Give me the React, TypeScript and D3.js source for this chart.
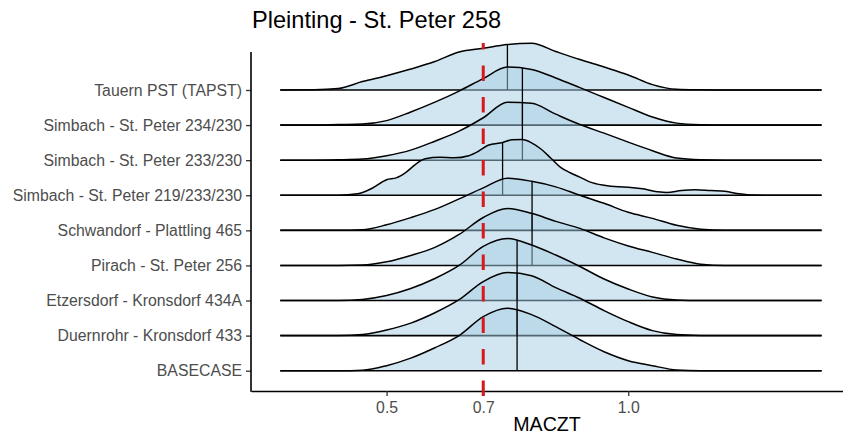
import React, { useEffect, useRef } from 'react';
import * as d3 from 'd3';

// rows, top to bottom
const rowLabels = [
  'Tauern PST (TAPST)',
  'Simbach - St. Peter 234/230',
  'Simbach - St. Peter 233/230',
  'Simbach - St. Peter 219/233/230',
  'Schwandorf - Plattling 465',
  'Pirach - St. Peter 256',
  'Etzersdorf - Kronsdorf 434A',
  'Duernrohr - Kronsdorf 433',
  'BASECASE',
];

// MACZT values where the densities were read
const gridX = [0.28, 0.35, 0.4, 0.45, 0.5, 0.55, 0.6, 0.65, 0.7, 0.75, 0.8, 0.85, 0.9, 0.95, 1.0, 1.05, 1.1, 1.15, 1.2, 1.25, 1.3, 1.4];
// the bumpy one needs more points
const gridFine = [0.28, 0.4, 0.44, 0.47, 0.5, 0.52, 0.54, 0.56, 0.58, 0.61, 0.64, 0.67, 0.69, 0.71, 0.74, 0.76, 0.78, 0.8, 0.82, 0.84, 0.86, 0.88, 0.9, 0.92, 0.95, 0.98, 1.0, 1.03, 1.06, 1.08, 1.11, 1.14, 1.17, 1.2, 1.23, 1.26, 1.3, 1.4];

const densTauern = [0, 0.01, 0.08, 0.47, 0.8, 1.17, 1.59, 2.12, 2.33, 2.54, 2.61, 2.15, 1.7, 1.28, 0.84, 0.3, 0.04, 0.01, 0, 0, 0, 0];
const densSimbach234 = [0, 0, 0.03, 0.06, 0.25, 0.73, 1.28, 1.9, 2.6, 3.24, 3.11, 2.63, 2.09, 1.54, 0.99, 0.45, 0.11, 0.02, 0, 0, 0, 0];
const densSimbach233 = [0, 0, 0.02, 0.06, 0.25, 0.56, 1.06, 1.62, 2.37, 3.24, 3.18, 2.57, 1.99, 1.51, 1.01, 0.53, 0.12, 0.02, 0, 0, 0, 0];
const densSimbach219 = [0, 0, 0.08, 0.39, 0.87, 0.97, 1.28, 1.73, 2.04, 2.12, 2.09, 2.21, 2.46, 2.79, 2.95, 3.1, 3.11, 2.93, 2.57, 2.07, 1.56, 1.26, 1.01, 0.75, 0.56, 0.47, 0.45, 0.36, 0.2, 0.15, 0.27, 0.31, 0.26, 0.22, 0.08, 0.01, 0, 0];
const densSchwandorf = [0, 0, 0, 0.03, 0.31, 0.71, 1.17, 1.76, 2.37, 2.91, 2.74, 2.43, 1.96, 1.51, 1.01, 0.67, 0.28, 0.06, 0, 0, 0, 0];
const densPirach = [0, 0, 0, 0.02, 0.2, 0.56, 1.01, 1.73, 2.68, 3.18, 2.91, 2.46, 2.07, 1.54, 1.09, 0.73, 0.36, 0.07, 0, 0, 0, 0];
const densEtzersdorf = [0, 0, 0, 0.06, 0.28, 0.67, 1.23, 1.96, 3.02, 3.46, 3.1, 2.54, 1.9, 1.2, 0.64, 0.2, 0.03, 0, 0, 0, 0, 0];
const densDuernrohr = [0, 0, 0, 0.06, 0.31, 0.7, 1.28, 2.01, 3.02, 3.52, 3.35, 2.68, 2.09, 1.4, 0.78, 0.28, 0.06, 0.01, 0, 0, 0, 0];
const densBasecase = [0, 0, 0, 0.03, 0.28, 0.7, 1.28, 1.96, 3.02, 3.49, 3.13, 2.46, 1.73, 1.06, 0.56, 0.28, 0.04, 0, 0, 0, 0, 0];

const medians = [0.75, 0.781, 0.781, 0.74, 0.801, 0.801, 0.77, 0.77, 0.77];

const xTicks = [0.5, 0.7, 1.0];
const refValue = 0.7;
const title = 'Pleinting - St. Peter 258';
const xTitle = 'MACZT';

const W = 843;
const H = 435;
const FONT = '"Liberation Sans", Arial, sans-serif';

export default function App() {
  const ref = useRef<SVGSVGElement>(null);

  useEffect(() => {
    if (ref.current) drawGraph(ref.current);
  }, []);

  return (
    <svg
      ref={ref}
      width={W}
      height={H}
      style={{ position: 'absolute', left: 0, top: 0, background: '#fff' }}
    />
  );
}

// y of the ridge path at a given screen x (path runs left to right)
function yAtX(path: SVGPathElement, xTarget: number) {
  const L = path.getTotalLength();
  let lo = 0;
  let hi = L;
  for (let i = 0; i < 30; i++) {
    const mid = (lo + hi) / 2;
    if (path.getPointAtLength(mid).x < xTarget) lo = mid;
    else hi = mid;
  }
  return path.getPointAtLength(hi).y;
}

const drawGraph = (node: SVGSVGElement) => {
  const svg = d3.select(node);
  svg.selectAll('*').remove();

  const grids = [gridX, gridX, gridX, gridFine, gridX, gridX, gridX, gridX, gridX];
  const dens = [
    densTauern, densSimbach234, densSimbach233, densSimbach219, densSchwandorf,
    densPirach, densEtzersdorf, densDuernrohr, densBasecase,
  ];
  const rows = rowLabels.map((label, i) => ({
    label,
    pts: grids[i].map((x, j) => [x, dens[i][j]] as [number, number]),
    median: medians[i],
  }));

  const x = d3.scaleLinear().domain([0.2195, 1.4443]).range([251, W]);
  const y = d3.scalePoint<string>().domain(rowLabels).range([90, 370.7]);
  const h = d3.scaleLinear().domain([0, 1]).range([0, 17.9]);

  const panel = svg.append('g');

  rows.forEach(row => {
    const base = y(row.label) as number;
    const g = panel.append('g');

    const area = d3
      .area<[number, number]>()
      .x(d => x(d[0]))
      .y0(base)
      .y1(d => base - h(d[1]))
      .curve(d3.curveMonotoneX);
    const line = d3
      .line<[number, number]>()
      .x(d => x(d[0]))
      .y(d => base - h(d[1]))
      .curve(d3.curveMonotoneX);

    g.append('path')
      .attr('d', area(row.pts))
      .attr('fill', '#a6cee3')
      .attr('fill-opacity', 0.5);

    g.append('line')
      .attr('x1', x(row.pts[0][0]))
      .attr('x2', x(row.pts[row.pts.length - 1][0]))
      .attr('y1', base)
      .attr('y2', base)
      .attr('stroke', '#000')
      .attr('stroke-width', 1.6);

    const ridge = g
      .append('path')
      .attr('d', line(row.pts))
      .attr('fill', 'none')
      .attr('stroke', '#000')
      .attr('stroke-width', 1.5)
      .attr('stroke-linejoin', 'round');

    const mx = x(row.median);
    const top = yAtX(ridge.node() as SVGPathElement, mx);
    g.append('line')
      .attr('x1', mx)
      .attr('x2', mx)
      .attr('y1', base)
      .attr('y2', top)
      .attr('stroke', '#000')
      .attr('stroke-width', 1.3);
  });

  // axes
  const xAxis = svg
    .append('g')
    .attr('transform', 'translate(0,391)')
    .call(
      d3
        .axisBottom(x)
        .tickValues(xTicks)
        .tickFormat(d3.format('.1f'))
        .tickSize(5)
        .tickSizeOuter(0)
        .tickPadding(5.5)
    );
  xAxis.select('.domain').attr('stroke', '#000').attr('stroke-width', 1.6);
  xAxis.selectAll('.tick line').attr('stroke', '#333').attr('stroke-width', 1.3);
  xAxis
    .selectAll('.tick text')
    .attr('fill', '#4d4d4d')
    .style('font-family', FONT)
    .style('font-size', '15.8px');

  const yAxis = svg
    .append('g')
    .attr('transform', 'translate(251,0)')
    .call(d3.axisLeft(y).tickSize(5).tickPadding(4));
  yAxis.select('.domain').remove();
  yAxis.selectAll('.tick line').attr('stroke', '#333').attr('stroke-width', 1.3);
  yAxis
    .selectAll('.tick text')
    .attr('fill', '#4d4d4d')
    .attr('dy', '0.32em')
    .style('font-family', FONT)
    .style('font-size', '15.8px');

  svg
    .append('line')
    .attr('x1', 251)
    .attr('x2', 251)
    .attr('y1', 52)
    .attr('y2', 391.8)
    .attr('stroke', '#000')
    .attr('stroke-width', 1.6);

  // reference line
  svg
    .append('line')
    .attr('x1', x(refValue))
    .attr('x2', x(refValue))
    .attr('y1', 396)
    .attr('y2', 43)
    .attr('stroke', '#d7191c')
    .attr('stroke-width', 3)
    .attr('stroke-dasharray', '15.5 16');

  svg
    .append('text')
    .attr('x', 252)
    .attr('y', 28)
    .style('font-family', FONT)
    .style('font-size', '23.6px')
    .attr('fill', '#000')
    .text(title);

  svg
    .append('text')
    .attr('x', (251 + W) / 2)
    .attr('y', 430.5)
    .attr('text-anchor', 'middle')
    .style('font-family', FONT)
    .style('font-size', '19.6px')
    .attr('fill', '#000')
    .text(xTitle);
};
